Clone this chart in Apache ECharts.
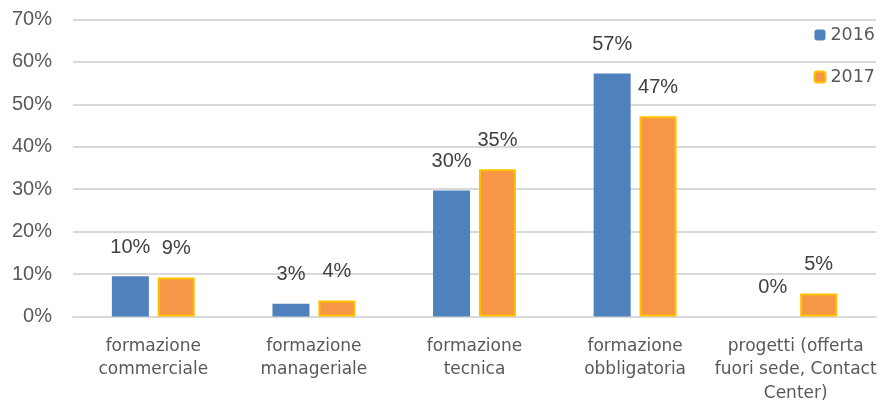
<!DOCTYPE html>
<html>
<head>
<meta charset="utf-8">
<script src="https://cdn.jsdelivr.net/npm/echarts@6/dist/echarts.min.js"></script>
<style>
  html, body { margin: 0; padding: 0; background: #fff; }
  #chart { width: 880px; height: 405px; }
</style>
</head>
<body>
<div id="chart"></div>
<script>
var categories = [
  "formazione\ncommerciale",
  "formazione\nmanageriale",
  "formazione\ntecnica",
  "formazione\nobbligatoria",
  "progetti (offerta\nfuori sede, Contact\nCenter)"
];
var values2016 = [9.5, 3.0, 29.7, 57.3, 0];
var values2017 = [9.2, 3.8, 34.7, 47.2, 5.4];
var yTicks = [0, 10, 20, 30, 40, 50, 60, 70];

var myChart = echarts.init(document.getElementById("chart"));

var labelStyle = {
  show: true,
  position: "top",
  distance: 19,
  color: "#404040",
  fontFamily: "Liberation Sans",
  fontSize: 20,
  formatter: function(p) {
    return Math.round(p.value) + "%";
  }
};

var option = {
  animation: false,
  grid: {
    left: 73,
    right: 4,
    top: 19.5,
    bottom: 87.5
  },
  legend: {
    orient: "vertical",
    right: 0,
    top: 21,
    itemWidth: 11,
    itemHeight: 11,
    itemGap: 24,
    textStyle: {
      color: "#595959",
      fontFamily: "DejaVu Sans",
      fontSize: 17.5
    },
    data: ["2016", "2017"]
  },
  xAxis: {
    type: "category",
    data: categories,
    axisTick: { show: false },
    axisLine: { lineStyle: { color: "#d9d9d9", width: 2 } },
    axisLabel: {
      color: "#595959",
      fontFamily: "DejaVu Sans",
      fontSize: 17,
      lineHeight: 23.5,
      margin: 18,
      interval: 0
    }
  },
  yAxis: {
    type: "value",
    min: yTicks[0],
    max: yTicks[yTicks.length - 1],
    interval: 10,
    axisLine: { show: false },
    axisTick: { show: false },
    splitLine: { lineStyle: { color: "#d9d9d9", width: 2 } },
    axisLabel: {
      formatter: "{value}%",
      color: "#595959",
      fontFamily: "Liberation Sans",
      fontSize: 20,
      margin: 21
    }
  },
  series: [
    {
      name: "2016",
      type: "bar",
      data: values2016,
      barWidth: 37,
      barGap: "24%",
      itemStyle: { color: "#4f81bd" },
      label: labelStyle
    },
    {
      name: "2017",
      type: "bar",
      data: values2017,
      barWidth: 37,
      itemStyle: { color: "#f79646", borderColor: "#ffc000", borderWidth: 2 },
      label: labelStyle
    }
  ]
};

myChart.setOption(option);
</script>
</body>
</html>
